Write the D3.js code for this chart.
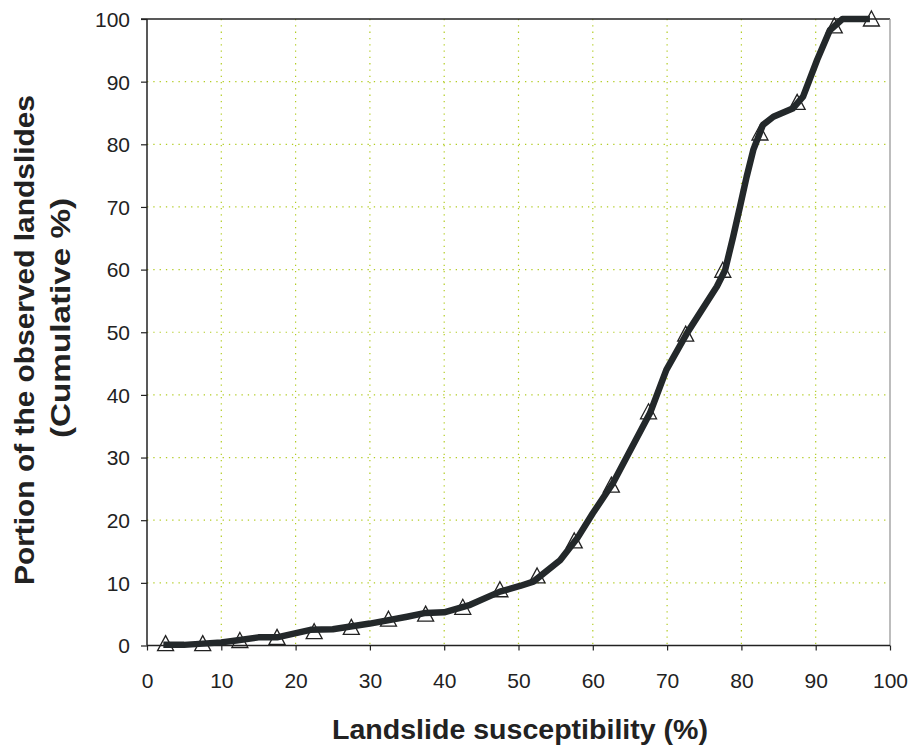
<!DOCTYPE html>
<html>
<head>
<meta charset="utf-8">
<script src="https://cdn.jsdelivr.net/npm/d3@7"></script>
<style>
  html, body { margin: 0; padding: 0; background: #fff; }
  svg { display: block; }
  text { font-family: "Liberation Sans", Arial, sans-serif; fill: #222; }
</style>
</head>
<body>
<svg id="chart" width="915" height="747"></svg>
<script>
// ---- data ----
const xTicks = [0, 10, 20, 30, 40, 50, 60, 70, 80, 90, 100];
const yTicks = [0, 10, 20, 30, 40, 50, 60, 70, 80, 90, 100];

// cumulative curve (thick line)
const curveX = [2.2, 5, 10, 12, 15, 17.5, 22, 25, 30, 35, 37.5, 40, 43.5, 47.5, 50.2, 52, 55.6, 57.9, 60, 62.7, 67.7, 69.9, 72.7, 76.7, 77.8, 78.9, 79.8, 80.7, 81.6, 82.9, 84.3, 86.9, 88.3, 90.2, 91.9, 93.6, 97.3];
const curveY = [0.1, 0.1, 0.5, 0.8, 1.3, 1.3, 2.5, 2.6, 3.5, 4.6, 5.2, 5.3, 6.5, 8.6, 9.5, 10.2, 13.6, 17.1, 21.1, 25.9, 37.1, 44.0, 49.9, 57.3, 59.9, 65.3, 70.0, 74.8, 79.1, 83.1, 84.4, 85.7, 87.6, 93.5, 98.2, 100, 100];

// triangle markers
const markerX = [2.5, 7.5, 12.5, 17.5, 22.5, 27.5, 32.5, 37.5, 42.5, 47.5, 52.5, 57.5, 62.5, 67.5, 72.5, 77.5, 82.5, 87.5, 92.5, 97.5];
const markerY = [0.3, 0.3, 0.8, 1.3, 2.2, 2.9, 4.2, 5.0, 6.1, 8.9, 11.1, 16.7, 25.6, 37.3, 49.7, 59.9, 81.8, 86.7, 98.9, 100];

const xLabel = "Landslide susceptibility (%)";
const yLabel1 = "Portion of the observed landslides";
const yLabel2 = "(Cumulative %)";

// ---- layout ----
const svg = d3.select("#chart");
const x = d3.scaleLinear().domain([0, 100]).range([147, 890]);
const y = d3.scaleLinear().domain([0, 100]).range([645.5, 19]);

// gridlines
const grid = svg.append("g");
grid.selectAll("line.gx").data(xTicks.filter(d => d > 0 && d < 100)).enter()
  .append("line")
  .attr("x1", d => x(d)).attr("x2", d => x(d))
  .attr("y1", y(100)).attr("y2", y(0))
  .attr("stroke", "#b2cc22").attr("stroke-width", 1.2)
  .attr("stroke-dasharray", "1.3,5");
grid.selectAll("line.gy").data(yTicks.filter(d => d > 0 && d < 100)).enter()
  .append("line")
  .attr("x1", x(0)).attr("x2", x(100))
  .attr("y1", d => y(d)).attr("y2", d => y(d))
  .attr("stroke", "#b2cc22").attr("stroke-width", 1.2)
  .attr("stroke-dasharray", "1.3,5");

// frame: top and right
svg.append("line").attr("x1", x(0) - 6).attr("x2", x(100)).attr("y1", y(100)).attr("y2", y(100))
  .attr("stroke", "#222").attr("stroke-width", 1.3);
svg.append("line").attr("x1", x(100)).attr("x2", x(100)).attr("y1", y(100)).attr("y2", y(0))
  .attr("stroke", "#999").attr("stroke-width", 1.3);

// axes
const xAxis = d3.axisBottom(x).tickValues(xTicks).tickSize(5).tickPadding(10).tickFormat(d3.format("d"));
const yAxis = d3.axisLeft(y).tickValues(yTicks).tickSize(6).tickPadding(10).tickFormat(d3.format("d"));

const gx = svg.append("g").attr("transform", `translate(0,${y(0)})`).call(xAxis);
const gy = svg.append("g").attr("transform", `translate(${x(0)},0)`).call(yAxis);
[gx, gy].forEach(g => {
  g.select(".domain").attr("stroke", "#222").attr("stroke-width", 1.5);
  g.selectAll(".tick line").attr("stroke", "#222").attr("stroke-width", 1.2);
  g.selectAll(".tick text").style("font-family", "'Liberation Sans', Arial, sans-serif")
    .style("font-size", "21px").attr("fill", "#222");
});
gx.select(".domain").attr("d", `M${x(0)},0H${x(100)}`);
gy.select(".domain").attr("d", `M0,${y(0)}V${y(100)}`);
gx.selectAll(".tick text").attr("dy", "1.3em");
gy.selectAll(".tick text").attr("x", -17).attr("dy", "0.35em");

// markers (open triangles)
const tri = (cx, cy) => `M${cx},${cy - 8}L${cx + 8},${cy + 7}L${cx - 8},${cy + 7}Z`;
svg.append("g").selectAll("path").data(markerX.map((d, i) => [d, markerY[i]])).enter()
  .append("path")
  .attr("d", d => tri(x(d[0]), y(d[1])))
  .attr("fill", "none").attr("stroke", "#222").attr("stroke-width", 1.3);

// thick curve
const line = d3.line().x(d => x(d[0])).y(d => y(d[1])).curve(d3.curveLinear);
svg.append("path")
  .datum(curveX.map((d, i) => [d, curveY[i]]))
  .attr("d", line)
  .attr("fill", "none").attr("stroke", "#23282a").attr("stroke-width", 6.5)
  .attr("stroke-linejoin", "round").attr("stroke-linecap", "butt");

// axis titles
svg.append("text").attr("x", 520).attr("y", 739).attr("text-anchor", "middle")
  .attr("font-weight", "bold").style("font-size", "28px")
  .attr("textLength", 376).attr("lengthAdjust", "spacingAndGlyphs")
  .text(xLabel);

svg.append("text").attr("transform", "translate(34,340) rotate(-90)").attr("text-anchor", "middle")
  .attr("font-weight", "bold").style("font-size", "28px")
  .attr("textLength", 490).attr("lengthAdjust", "spacingAndGlyphs")
  .text(yLabel1);
svg.append("text").attr("transform", "translate(70,318) rotate(-90)").attr("text-anchor", "middle")
  .attr("font-weight", "bold").style("font-size", "28px")
  .attr("textLength", 240).attr("lengthAdjust", "spacingAndGlyphs")
  .text(yLabel2);
</script>
</body>
</html>
